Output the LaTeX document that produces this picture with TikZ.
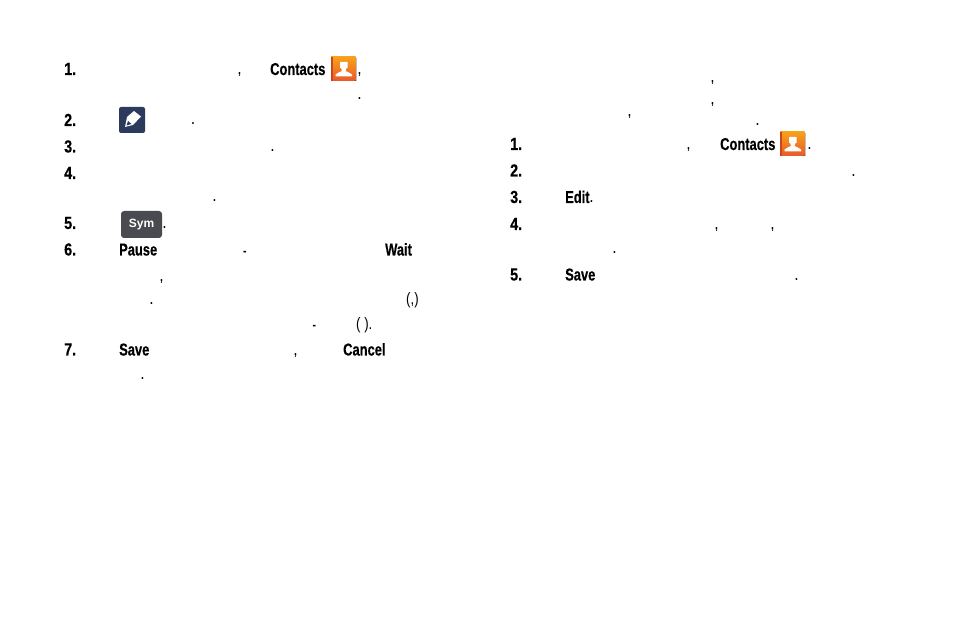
\documentclass[tikz,border=0pt]{standalone}
\usepackage{xcolor}
\usepackage{fontspec}
\setmainfont{Liberation Sans}
\newfontfamily\narrowbold[FakeStretch=0.75,FakeBold=0.4]{Liberation Sans Bold}
\newfontfamily\narrownum[FakeStretch=0.82,FakeBold=0.4]{Liberation Sans Bold}
\newfontfamily\narrowmark[FakeStretch=0.8]{Liberation Sans Bold}
\newfontfamily\narrowplain[FakeStretch=0.8]{Liberation Sans}
\definecolor{pencilblue}{HTML}{2C3A5E}
\definecolor{symgray}{HTML}{4A4B50}
\definecolor{iconorange}{HTML}{F7A11B}
\definecolor{iconred}{HTML}{E9582B}
\definecolor{iconedge}{HTML}{C9471F}
\tikzset{
	word/.style={anchor=base west,inner sep=0pt,font=\narrowbold\fontsize{17.2}{20}\selectfont},
	stepnum/.style={word,font=\narrownum\fontsize{17.5}{20}\selectfont},
	punct/.style={word,font=\narrowmark\fontsize{13}{15}\selectfont},
	paren/.style={anchor=base west,inner sep=0pt,font=\narrowplain\fontsize{16.5}{18}\selectfont},
}
\newcommand{\contactsicon}[2]{
	\begin{scope}[shift={(#1,#2)}]
		\fill[top color=iconorange,bottom color=iconred] (0,0) rectangle (24.5,24);
		\fill[iconedge] (0,0) rectangle (1.5,24);
		\fill[black!25] (24.5,1) rectangle (25.5,24);
		\fill[white] (9,5) rectangle (16.5,11) (10,11) -- (15.5,11) -- (14.5,14) -- (11,14) -- cycle;
		\fill[white] (4.5,19.5) -- (4.5,17.5) .. controls (6,15.5) and (9,15.5) .. (11,14) -- (14.5,14) .. controls (16.5,15.5) and (19.5,15.5) .. (21,17.5) -- (21,19.5) -- cycle;
	\end{scope}
}
\begin{document}
\begin{tikzpicture}[x=1pt,y=-1pt]
		\useasboundingbox (0,0) rectangle (954,636);

		% left column
		\node[stepnum] (la) at (64,75) {1.};
		\node[stepnum] (lb) at (64,126) {2.};
		\node[stepnum] (lc) at (64,152.5) {3.};
		\node[stepnum] (ld) at (64,179) {4.};
		\node[stepnum] (le) at (64,229) {5.};
		\node[stepnum] (lf) at (64,255.5) {6.};
		\node[stepnum] (lg) at (64,355.5) {7.};
		\node[word] (lcontacts) at (270,75) {Contacts};
		\node[word] (lpause) at (119,255.5) {Pause};
		\node[word] (lwait) at (385,255.5) {Wait};
		\node[word] (lsave) at (119,355.5) {Save};
		\node[word] (lcancel) at (343,355.5) {Cancel};
		\node[punct] (m1) at (238,75) {,};
		\node[punct] (m2) at (358,75) {,};
		\node[punct] (m3) at (358,100) {.};
		\node[punct] (m4) at (191.5,125) {.};
		\node[punct] (m5) at (271,152) {.};
		\node[punct] (m6) at (213,202) {.};
		\node[punct] (m7) at (163,229) {.};
		\node[punct] (m8) at (243,255.5) {-};
		\node[punct] (m9) at (160,282) {,};
		\node[punct] (m10) at (150,305) {.};
		\node[paren] (m11) at (406,305) {(,)};
		\node[punct] (m12) at (312.5,330) {-};
		\node[paren] (m13) at (356,330) {( ).};
		\node[punct] (m14) at (294,355.5) {,};
		\node[punct] (m15) at (141,380) {.};

		% right column
		\node[stepnum] (ra) at (510,150) {1.};
		\node[stepnum] (rb) at (510,176.5) {2.};
		\node[stepnum] (rc) at (510,203) {3.};
		\node[stepnum] (rd) at (510,230) {4.};
		\node[stepnum] (re) at (510,280.5) {5.};
		\node[word] (rcontacts) at (720,150) {Contacts};
		\node[word] (redit) at (565,203) {Edit};
		\node[word] (rsave) at (565,280.5) {Save};
		\node[punct] (n1) at (711,83) {,};
		\node[punct] (n2) at (711,105) {,};
		\node[punct] (n3) at (628,117) {,};
		\node[punct] (n4) at (756,125.5) {.};
		\node[punct] (n5) at (687,150) {,};
		\node[punct] (n6) at (808,150) {.};
		\node[punct] (n7) at (852,176.5) {.};
		\node[punct] (n8) at (590,203) {.};
		\node[punct] (n9) at (715,230) {,};
		\node[punct] (n10) at (771,230) {,};
		\node[punct] (n11) at (613,254) {.};
		\node[punct] (n12) at (795,280.5) {.};

		% icons
		\contactsicon{331}{57}
		\contactsicon{780}{132}
		\node[fill=pencilblue,rounded corners=2pt,minimum width=26pt,minimum height=26pt,inner sep=0pt] (pencil) at (132,120) {};
		\fill[white] (127,117) -- (134,111) -- (141,116.5) -- (133,125) -- (125,127) -- cycle;
		\fill[pencilblue] (126.5,125.5) -- (128,121) -- (131.5,124) -- cycle;
		\node[fill=symgray,rounded corners=3pt,minimum width=41pt,minimum height=27pt,inner sep=0pt,text=white,font=\bfseries\fontsize{12}{14}\selectfont] (sym) at (141.5,224.5) {Sym};
		\end{tikzpicture}
\end{document}
